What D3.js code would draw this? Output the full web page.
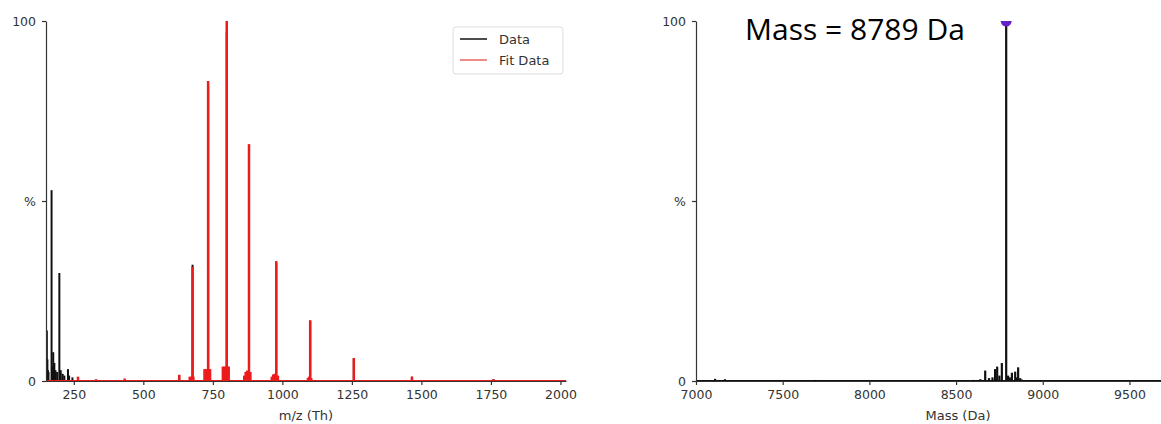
<!DOCTYPE html>
<html>
<head>
<meta charset="utf-8">
<script src="https://cdn.jsdelivr.net/npm/d3@7"></script>
<style>
  body { margin: 0; background: #fff; }
  svg text { font-family: "DejaVu Sans", sans-serif; fill: #333; }
</style>
</head>
<body>
<svg id="chart" width="1161" height="424"></svg>
<script>
// left panel: raw m/z spectrum (sticks)
const dataMz  = [153, 155, 157, 159, 170, 172, 176, 180, 184, 190, 198, 203, 210, 216, 229, 233, 245, 265,
                 629, 677, 733, 800, 880, 978, 1100, 1257, 1466, 1759];
const dataInt = [14, 6, 3, 2.5, 53, 4, 8, 5, 3, 2.5, 30, 3, 2, 1.5, 3.3, 1.5, 1, 1,
                 1.7, 32.3, 82, 97, 65, 33, 16.5, 6.2, 1.2, 0.5];

// fitted charge-state series (z = 14 ... 5) plus adduct shoulders
const fitMz  = [265, 330, 433, 629,
                667, 672, 677, 680,
                720, 725, 730, 733, 736, 740,
                786, 791, 796, 800, 804, 807,
                863, 868, 873, 880, 885,
                962, 967, 972, 978, 984,
                1092, 1096, 1100, 1104,
                1257, 1466, 1759];
const fitInt = [1.2, 0.5, 0.7, 1.7,
                1.2, 1.2, 31.7, 1.2,
                3.3, 3.3, 3.3, 83.3, 3.3, 3.3,
                4, 4, 4, 100, 4, 4,
                1.5, 2.5, 2.9, 65.8, 2.5,
                1.2, 1.8, 2, 33.3, 1.5,
                0.8, 1.2, 16.9, 0.8,
                6.4, 1.2, 0.5];

// right panel: deconvolved mass spectrum
const massDa  = [7110, 7167, 7690, 8600, 8640, 8668, 8690, 8710, 8725, 8737, 8750, 8764,
                 8789, 8800, 8810, 8822, 8841, 8850, 8858, 8870, 8880];
const massInt = [0.6, 0.5, 0.3, 0.3, 0.5, 2.9, 0.8, 1, 3.3, 4, 1.5, 5,
                 100, 1.5, 1, 2.3, 2.6, 1, 3.8, 0.8, 0.4];
const peakMass = 8789;

const yTicks = [0, 50, 100];
const yTickLabels = ["0", "%", "100"];
const mzTicks = [250, 500, 750, 1000, 1250, 1500, 1750, 2000];
const massTicks = [7000, 7500, 8000, 8500, 9000, 9500];

const svg = d3.select("#chart");
const plotTop = 21, plotBottom = 381;

function panel(id, x0, x1, domain, ticks, xLabel, labelX) {
  const x = d3.scaleLinear().domain(domain).range([x0, x1]);
  const y = d3.scaleLinear().domain([0, 100]).range([plotBottom, plotTop]);
  const g = svg.append("g");

  svg.append("clipPath").attr("id", id)
    .append("rect").attr("x", x0).attr("y", plotTop)
    .attr("width", x1 - x0).attr("height", plotBottom - plotTop + 2);

  const plot = g.append("g").attr("clip-path", `url(#${id})`);

  const yAxis = g.append("g").attr("transform", `translate(${x0},0)`)
    .call(d3.axisLeft(y).tickValues(yTicks).tickFormat((d, i) => yTickLabels[i])
      .tickSize(4).tickSizeOuter(0).tickPadding(6));
  const xAxis = g.append("g").attr("transform", `translate(0,${plotBottom})`)
    .call(d3.axisBottom(x).tickValues(ticks).tickFormat(d3.format("d"))
      .tickSize(4).tickSizeOuter(0).tickPadding(5));
  [yAxis, xAxis].forEach(a => {
    a.selectAll("text").style("font-size", "12.5px");
    a.selectAll("path, line").attr("stroke", "#333").attr("stroke-width", 1.2);
  });

  g.append("text")
    .attr("x", labelX)
    .attr("y", 420)
    .attr("text-anchor", "middle")
    .style("font-size", "13px")
    .text(xLabel);

  return { x, y, plot, g };
}

function sticks(p, mz, inten, color, width) {
  p.plot.append("line")
    .attr("x1", p.x.range()[0]).attr("x2", p.x.range()[1])
    .attr("y1", p.y(0)).attr("y2", p.y(0))
    .attr("stroke", color).attr("stroke-width", 2);
  p.plot.selectAll(null)
    .data(d3.zip(mz, inten))
    .join("line")
    .attr("x1", d => p.x(d[0])).attr("x2", d => p.x(d[0]))
    .attr("y1", p.y(0)).attr("y2", d => p.y(d[1]))
    .attr("stroke", color).attr("stroke-width", width);
}

// left
const L = panel("clipL", 46, 566, [150, 2020], mzTicks, "m/z (Th)", 306);
sticks(L, dataMz, dataInt, "#111", 2);
sticks(L, fitMz, fitInt, "#ec1c1c", 2.5);

// legend
const leg = L.g.append("g").attr("transform", "translate(453,27)");
leg.append("rect").attr("width", 110).attr("height", 47).attr("rx", 3)
  .attr("fill", "#fff").attr("stroke", "#ddd");
[["Data", "#111", 1], ["Fit Data", "#e03030", 0.75]].forEach((e, i) => {
  const yy = 12 + i * 21;
  leg.append("line").attr("x1", 7).attr("x2", 34).attr("y1", yy).attr("y2", yy)
    .attr("stroke", e[1]).attr("stroke-opacity", e[2]).attr("stroke-width", 1.5);
  leg.append("text").attr("x", 46).attr("y", yy).attr("dy", "0.35em")
    .style("font-size", "13px").text(e[0]);
});

// right
const R = panel("clipR", 696, 1165, [7000, 9705], massTicks, "Mass (Da)", 958);
sticks(R, massDa, massInt, "#111", 2.2);
R.plot.append("circle")
  .attr("cx", R.x(peakMass)).attr("cy", R.y(100)).attr("r", 5.5)
  .attr("fill", "#6222c9");

svg.append("text")
  .attr("x", 745).attr("y", 40)
  .style("font-family", "'Open Sans', sans-serif")
  .style("font-size", "30px")
  .style("fill", "#000")
  .text(`Mass = ${peakMass} Da`);
</script>
</body>
</html>
